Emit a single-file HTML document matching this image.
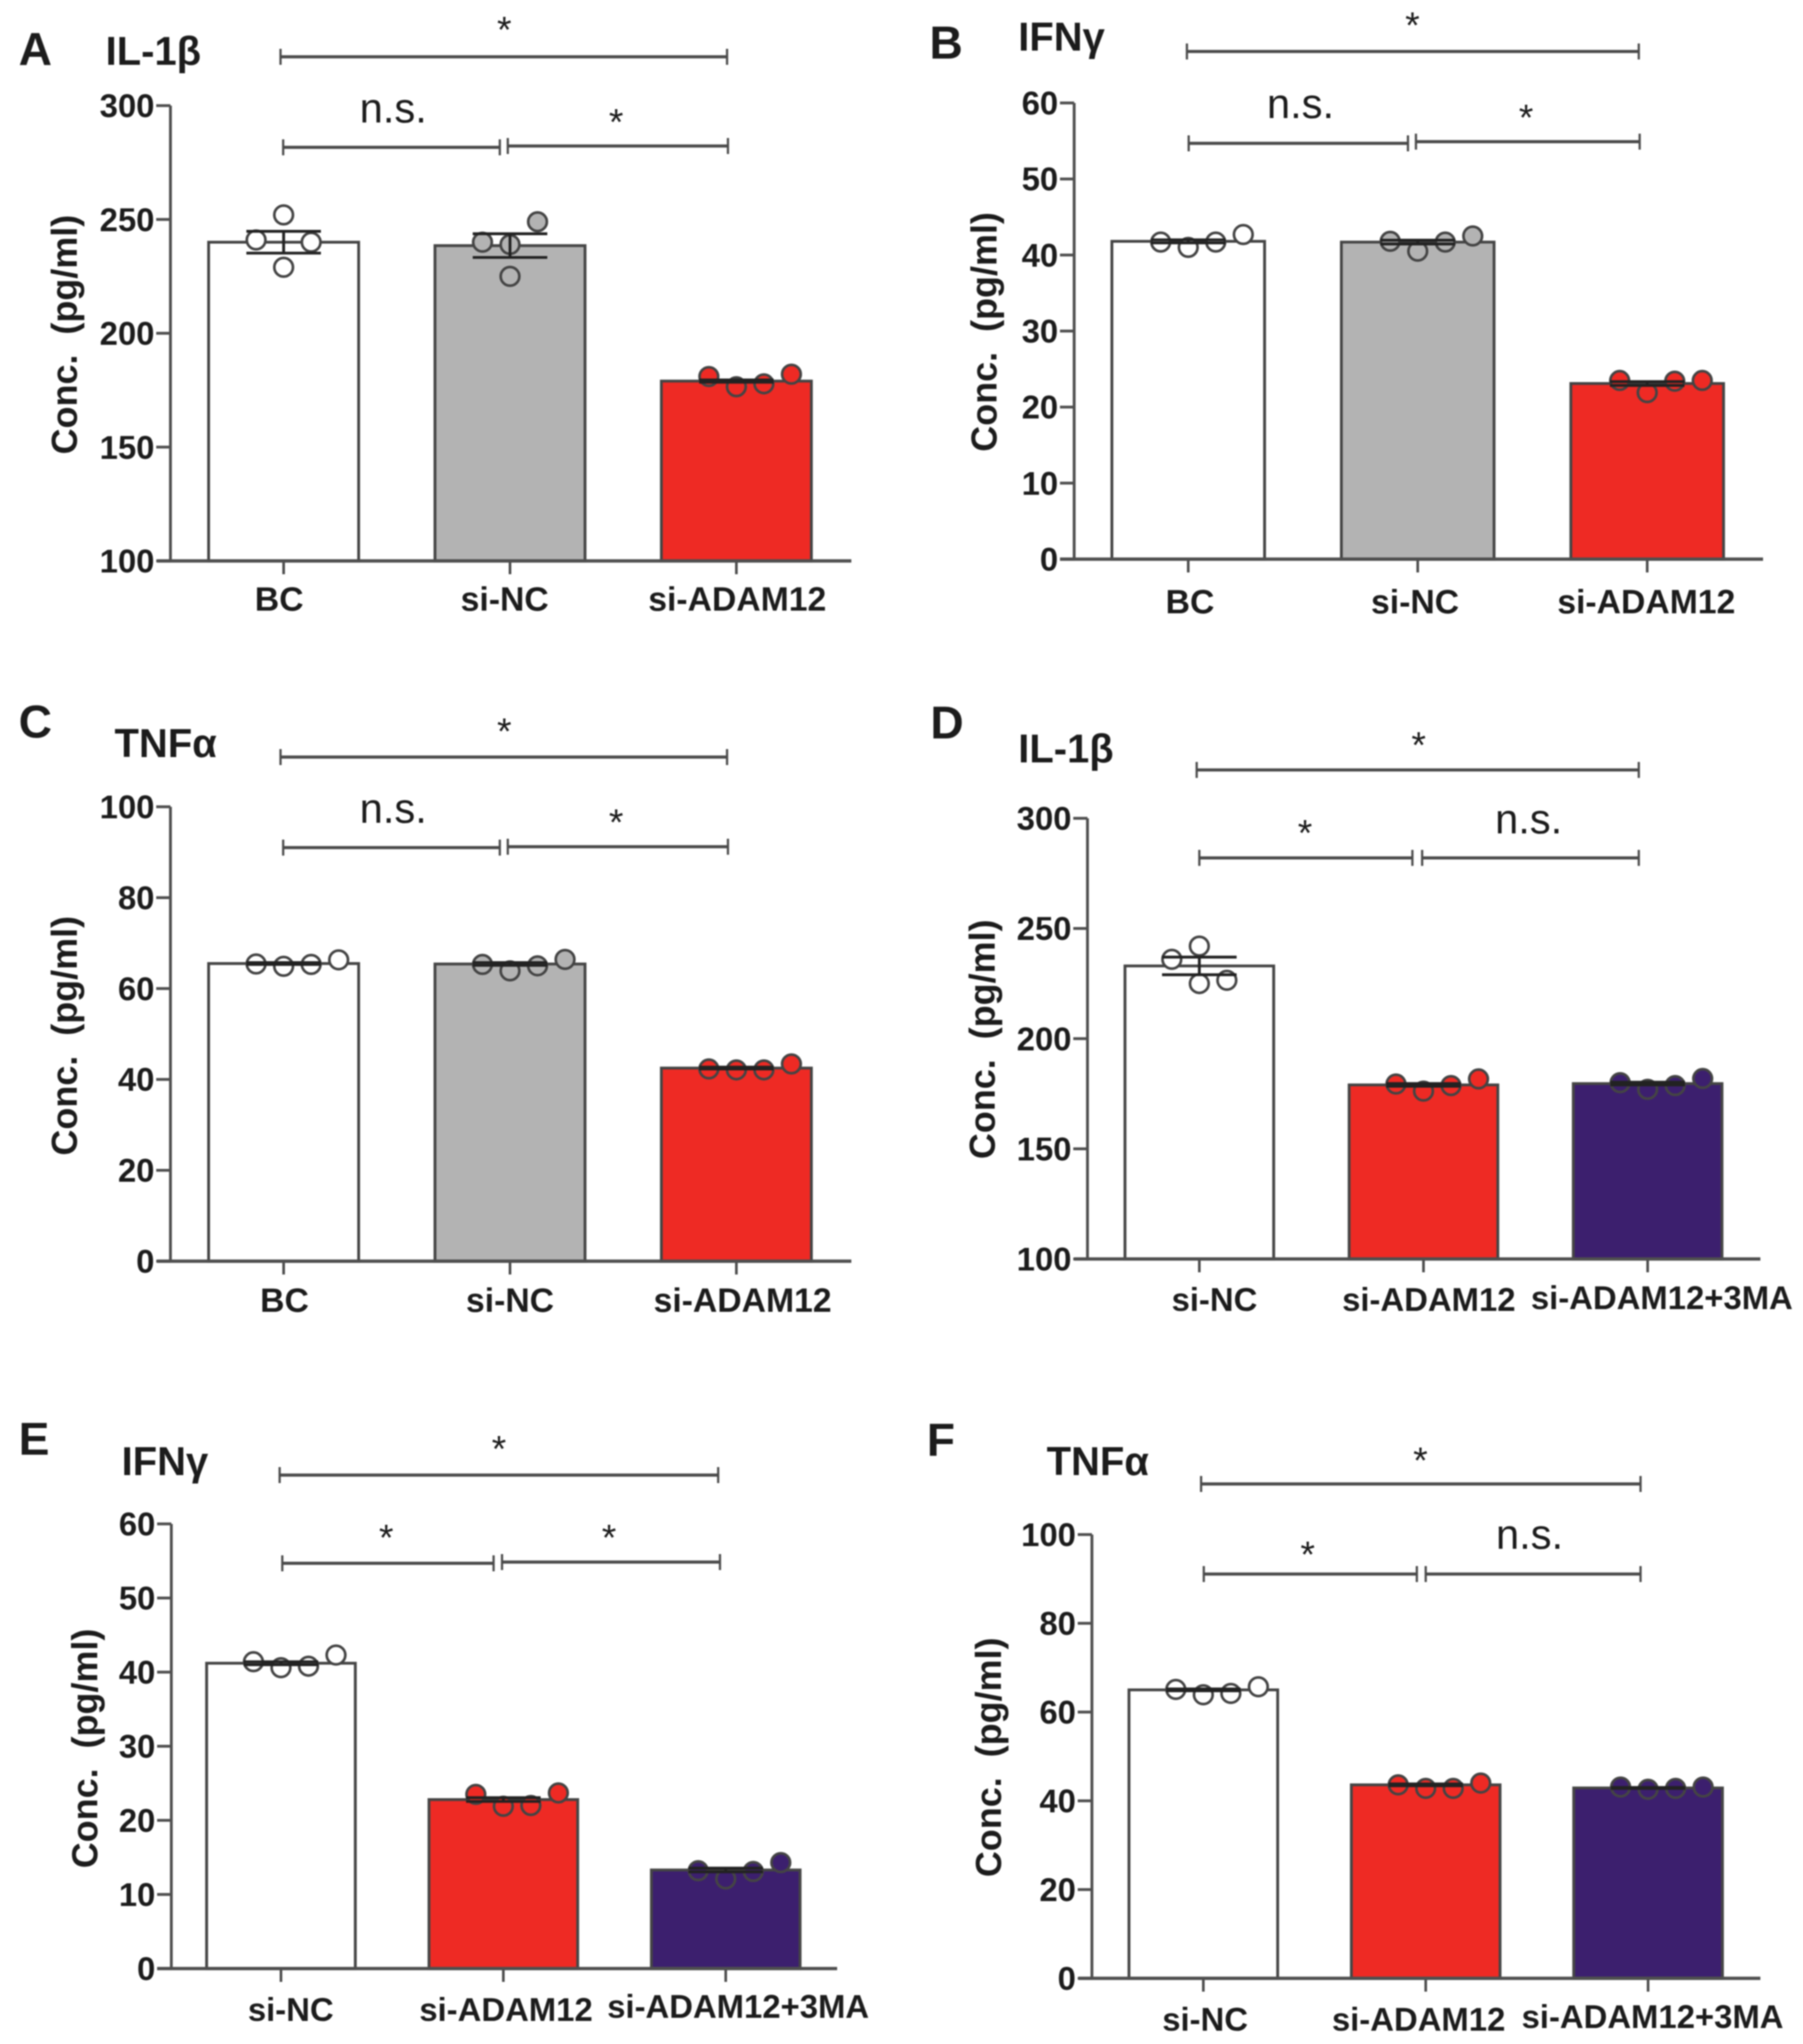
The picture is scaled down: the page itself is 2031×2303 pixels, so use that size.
<!DOCTYPE html>
<html lang="en">
<head>
<meta charset="utf-8">
<title>Cytokine concentrations, panels A–F</title>
<style>
html,body{margin:0;padding:0;background:#fff;}
svg{display:block;}
#figure{filter:blur(0.9px);}
text{font-family:"Liberation Sans",sans-serif;fill:#1c1c1c;white-space:pre;}
.bold{font-weight:bold;}
</style>
</head>
<body>
<svg id="chart" xmlns="http://www.w3.org/2000/svg" width="2031" height="2303" viewBox="0 0 2031 2303">
<g id="figure"></g>
</svg>
<script>
// ---------- data ----------
const panelATitle = 'IL-1β';
const panelACategories = ['BC', 'si-NC', 'si-ADAM12'];
const panelATicks = [100, 150, 200, 250, 300];
const panelAMeans = [240, 238.5, 179];
const panelASem = [4.8, 5.2, 0.5];
const panelAPoints = [[241, 252, 229, 240], [240, 239, 225, 249], [181, 176.5, 177.8, 182]];
const panelASlots = [[-1, 0, 0, 1], [-1, 0, 0, 1], [-1, 0, 1, 2]];
const panelAMarks = ['*', 'n.s.', '*'];

const panelBTitle = 'IFNγ';
const panelBCategories = ['BC', 'si-NC', 'si-ADAM12'];
const panelBTicks = [0, 10, 20, 30, 40, 50, 60];
const panelBMeans = [41.8, 41.7, 23.1];
const panelBSem = [0.2, 0.25, 0.25];
const panelBPoints = [[41.7, 41.0, 41.7, 42.7], [41.8, 40.5, 41.7, 42.5], [23.5, 21.9, 23.4, 23.5]];
const panelBSlots = [[-1, 0, 1, 2], [-1, 0, 1, 2], [-1, 0, 1, 2]];
const panelBMarks = ['*', 'n.s.', '*'];

const panelCTitle = 'TNFα';
const panelCCategories = ['BC', 'si-NC', 'si-ADAM12'];
const panelCTicks = [0, 20, 40, 60, 80, 100];
const panelCMeans = [65.5, 65.4, 42.5];
const panelCSem = [0.2, 0.3, 0.2];
const panelCPoints = [[65.4, 64.9, 65.3, 66.3], [65.3, 63.9, 65.0, 66.4], [42.3, 42.1, 42.1, 43.4]];
const panelCSlots = [[-1, 0, 1, 2], [-1, 0, 1, 2], [-1, 0, 1, 2]];
const panelCMarks = ['*', 'n.s.', '*'];

const panelDTitle = 'IL-1β';
const panelDCategories = ['si-NC', 'si-ADAM12', 'si-ADAM12+3MA'];
const panelDTicks = [100, 150, 200, 250, 300];
const panelDMeans = [233, 179, 179.6];
const panelDSem = [4, 0.6, 0.6];
const panelDPoints = [[236, 242, 225, 226.5], [179.4, 176.2, 178.7, 181.7], [180, 177, 178.7, 181.9]];
const panelDSlots = [[-1, 0, 0, 1], [-1, 0, 1, 2], [-1, 0, 1, 2]];
const panelDMarks = ['*', '*', 'n.s.'];

const panelETitle = 'IFNγ';
const panelECategories = ['si-NC', 'si-ADAM12', 'si-ADAM12+3MA'];
const panelETicks = [0, 10, 20, 30, 40, 50, 60];
const panelEMeans = [41.2, 22.8, 13.3];
const panelESem = [0.2, 0.25, 0.25];
const panelEPoints = [[41.4, 40.6, 40.8, 42.3], [23.5, 21.9, 22, 23.7], [13.2, 12.1, 13.1, 14.3]];
const panelESlots = [[-1, 0, 1, 2], [-1, 0, 1, 2], [-1, 0, 1, 2]];
const panelEMarks = ['*', '*', '*'];

const panelFTitle = 'TNFα';
const panelFCategories = ['si-NC', 'si-ADAM12', 'si-ADAM12+3MA'];
const panelFTicks = [0, 20, 40, 60, 80, 100];
const panelFMeans = [65, 43.6, 42.9];
const panelFSem = [0.2, 0.2, 0.1];
const panelFPoints = [[65.1, 63.9, 64.2, 65.7], [43.6, 42.8, 42.8, 44], [43.1, 42.6, 42.8, 43.1]];
const panelFSlots = [[-1, 0, 1, 2], [-1, 0, 1, 2], [-1, 0, 1, 2]];
const panelFMarks = ['*', '*', 'n.s.'];

// ---------- panel layout (frames, not data) ----------
const WHITE = '#ffffff', GREY = '#b3b3b3', RED = '#ee2a24', PURPLE = '#3c1f6e';
const panels = [
 {letter:'A', title:panelATitle, cats:panelACategories, ticks:panelATicks, means:panelAMeans, sem:panelASem, pts:panelAPoints, slots:panelASlots, marks:panelAMarks,
  colors:[WHITE,GREY,RED], axisX:192, top:119, bottom:632, xStart:177, xEnd:959, c0:319.5, step:255, barW:169,
  labelDx:[-5,-6,1], labelY:[688,688,688], labelSize:38, titleX:377, titleBase:87,
  letterX:21, letterY:73, nameX:119, nameY:73,
  brTop:[315,816,64], brL:[318,563,166], brR:[571,817,164.5],
  starTop:[566,27], markL:[441,138], markR:[692,131]},
 {letter:'B', title:panelBTitle, cats:panelBCategories, ticks:panelBTicks, means:panelBMeans, sem:panelBSem, pts:panelBPoints, slots:panelBSlots, marks:panelBMarks,
  colors:[WHITE,GREY,RED], axisX:1210, top:116, bottom:630, xStart:1194, xEnd:1986, c0:1338.5, step:258.5, barW:172,
  labelDx:[2,-3,-1], labelY:[691,691,691], labelSize:38, titleX:374, titleBase:1123,
  letterX:1047, letterY:66, nameX:1147, nameY:57,
  brTop:[1336,1843,58], brL:[1338,1586,161.5], brR:[1594,1844,159.6],
  starTop:[1589,22], markL:[1463,133], markR:[1717,126]},
 {letter:'C', title:panelCTitle, cats:panelCCategories, ticks:panelCTicks, means:panelCMeans, sem:panelCSem, pts:panelCPoints, slots:panelCSlots, marks:panelCMarks,
  colors:[WHITE,GREY,RED], axisX:192, top:909, bottom:1421, xStart:177, xEnd:959, c0:319.5, step:255, barW:169,
  labelDx:[1,0,7], labelY:[1478,1478,1478], labelSize:38, titleX:1167, titleBase:87,
  letterX:21, letterY:831, nameX:129, nameY:853,
  brTop:[315,816,853], brL:[318,563,955], brR:[571,817,954],
  starTop:[566,817.5], markL:[441,927], markR:[692,920]},
 {letter:'D', title:panelDTitle, cats:panelDCategories, ticks:panelDTicks, means:panelDMeans, sem:panelDSem, pts:panelDPoints, slots:panelDSlots, marks:panelDMarks,
  colors:[WHITE,RED,PURPLE], axisX:1225, top:922, bottom:1418.5, xStart:1210, xEnd:1983, c0:1351, step:252.5, barW:167.5,
  labelDx:[17,6,16], labelY:[1477,1477,1475], labelSize:37, titleX:1171, titleBase:1121,
  letterX:1048, letterY:832, nameX:1147, nameY:859,
  brTop:[1347,1843,867.5], brL:[1350,1591,966.6], brR:[1601,1843,966.6],
  starTop:[1596,833], markL:[1468,932], markR:[1720,939]},
 {letter:'E', title:panelETitle, cats:panelECategories, ticks:panelETicks, means:panelEMeans, sem:panelESem, pts:panelEPoints, slots:panelESlots, marks:panelEMarks,
  colors:[WHITE,RED,PURPLE], axisX:193, top:1717, bottom:2218, xStart:177, xEnd:943, c0:316.5, step:250.5, barW:167.5,
  labelDx:[11,3,14], labelY:[2277,2277,2273.5], labelSize:37, titleX:1970, titleBase:110,
  letterX:21, letterY:1639, nameX:137, nameY:1662,
  brTop:[314,806,1662], brL:[317,556,1761.4], brR:[564.5,808,1760],
  starTop:[560,1626], markL:[433,1726], markR:[684,1726]},
 {letter:'F', title:panelFTitle, cats:panelFCategories, ticks:panelFTicks, means:panelFMeans, sem:panelFSem, pts:panelFPoints, slots:panelFSlots, marks:panelFMarks,
  colors:[WHITE,RED,PURPLE], axisX:1230, top:1729, bottom:2229, xStart:1215, xEnd:1983, c0:1355.5, step:250.5, barW:167.5,
  labelDx:[2,-8,5], labelY:[2288,2288,2285], labelSize:37, titleX:1980, titleBase:1128,
  letterX:1044, letterY:1640, nameX:1179, nameY:1662,
  brTop:[1352,1845,1672], brL:[1355,1596,1773.5], brR:[1605,1845,1773.5],
  starTop:[1598,1639], markL:[1471,1745], markR:[1721,1745]}
];

const SVGNS = 'http://www.w3.org/2000/svg';
const INK = '#454545';
const root = document.getElementById('figure');

function mk(tag, attrs, parent) {
  const el = document.createElementNS(SVGNS, tag);
  for (const k in attrs) el.setAttribute(k, attrs[k]);
  parent.appendChild(el);
  return el;
}
function line(parent, x1, y1, x2, y2, color, w) {
  return mk('line', {x1:x1, y1:y1, x2:x2, y2:y2, stroke:color || INK, 'stroke-width':w || 3}, parent);
}
function txt(parent, s, x, y, size, anchor, bold) {
  const el = mk('text', {x:x, y:y, 'font-size':size, 'text-anchor':anchor || 'start'}, parent);
  if (bold) el.setAttribute('class', 'bold');
  el.textContent = s;
  return el;
}
function drawBracket(g, spec, dx1, dx2) {
  const x1 = spec[0] + dx1, x2 = spec[1] + dx2, y = spec[2];
  const b = mk('g', {}, g);
  
  
  line(b, x1, y, x2, y, '#4a4a4a', 3.5);
  line(b, x1, y - 9, x1, y + 9, '#4a4a4a', 2.5);
  line(b, x2, y - 9, x2, y + 9, '#4a4a4a', 2.5);
}
function drawMark(g, s, pos) {
  let el;
  if (s === '*') {
    el = txt(g, '*', pos[0] + 2, pos[1] + 21, 42, 'middle');
  } else {
    el = txt(g, s, pos[0] + 2, pos[1], 47, 'middle');
  }
  
  
}

panels.forEach(function (p) {
  const g = mk('g', {}, root);
  
  

  // axis functions
  const yMin = p.ticks[0], yMax = p.ticks[p.ticks.length - 1];
  const yScale = function (v) { return p.bottom + (v - yMin) * (p.top - p.bottom) / (yMax - yMin); };
  const xBand = function (i) { return p.c0 + i * p.step; };
  const slotWidth = 31;
  const capHalf = 42;

  // panel letter + cytokine name
  const letterEl = txt(g, p.letter, p.letterX, p.letterY, 52, 'start', true);
  
  
  const nameEl = txt(g, p.title, p.nameX, p.nameY, 45, 'start', true);
  
  

  // y axis title
  const yt = mk('text', {'font-size':41, 'text-anchor':'middle', 'class':'bold', textLength:270, lengthAdjust:'spacingAndGlyphs',
    transform:'translate(' + (p.titleBase - 0.5) + ',' + p.titleX + ') rotate(-90)', x:0, y:0}, g);
  yt.textContent = 'Conc.  (pg/ml)';
  
  

  // bars
  p.cats.forEach(function (c, i) {
    const cx = xBand(i), top = yScale(p.means[i]);
    const bar = mk('rect', {x:cx - p.barW / 2, y:top, width:p.barW, height:p.bottom - top, fill:p.colors[i], stroke:INK, 'stroke-width':3.2}, g);
    
    
  });

  // axes
  const yAxis = line(g, p.axisX, p.top, p.axisX, p.bottom, '#4f4f4f', 3.2);
  
  
  const xAxis = line(g, p.xStart, p.bottom, p.xEnd, p.bottom, '#4f4f4f', 3.8);
  
  

  p.ticks.forEach(function (t) {
    const y = yScale(t);
    const tick = line(g, p.axisX - 16, y, p.axisX, y, '#4f4f4f', 3.2);
    
    
    const lab = txt(g, String(t), p.axisX - 18, y + 13, 37, 'end', true);
    
    
  });

  p.cats.forEach(function (c, i) {
    const cx = xBand(i);
    const tick = line(g, cx, p.bottom, cx, p.bottom + 15, '#4f4f4f', 3);
    
    
    const lab = txt(g, c, cx + p.labelDx[i], p.labelY[i], p.labelSize, 'middle', true);
    
    
  });

  // data points, then error bars
  p.cats.forEach(function (c, i) {
    const cx = xBand(i);
    p.pts[i].forEach(function (v, j) {
      const pt = mk('circle', {cx:cx + p.slots[i][j] * slotWidth, cy:yScale(v), r:10.5, fill:p.colors[i], stroke:'#444', 'stroke-width':3}, g);
      
      
    });
    const eg = mk('g', {}, g);
    
    
    const hi = yScale(p.means[i] + p.sem[i]), lo = yScale(p.means[i] - p.sem[i]);
    line(eg, cx, hi, cx, lo, '#222', 3.2);
    line(eg, cx - capHalf, hi, cx + capHalf, hi, '#222', 3.2);
    line(eg, cx - capHalf, lo, cx + capHalf, lo, '#222', 3.2);
  });

  // significance annotations
  drawBracket(g, p.brTop, 1, 3);
  drawBracket(g, p.brL, 1, 0);
  drawBracket(g, p.brR, 1, 3);
  drawMark(g, p.marks[0], p.starTop);
  drawMark(g, p.marks[1], p.markL);
  drawMark(g, p.marks[2], p.markR);
});
</script>
</body>
</html>
